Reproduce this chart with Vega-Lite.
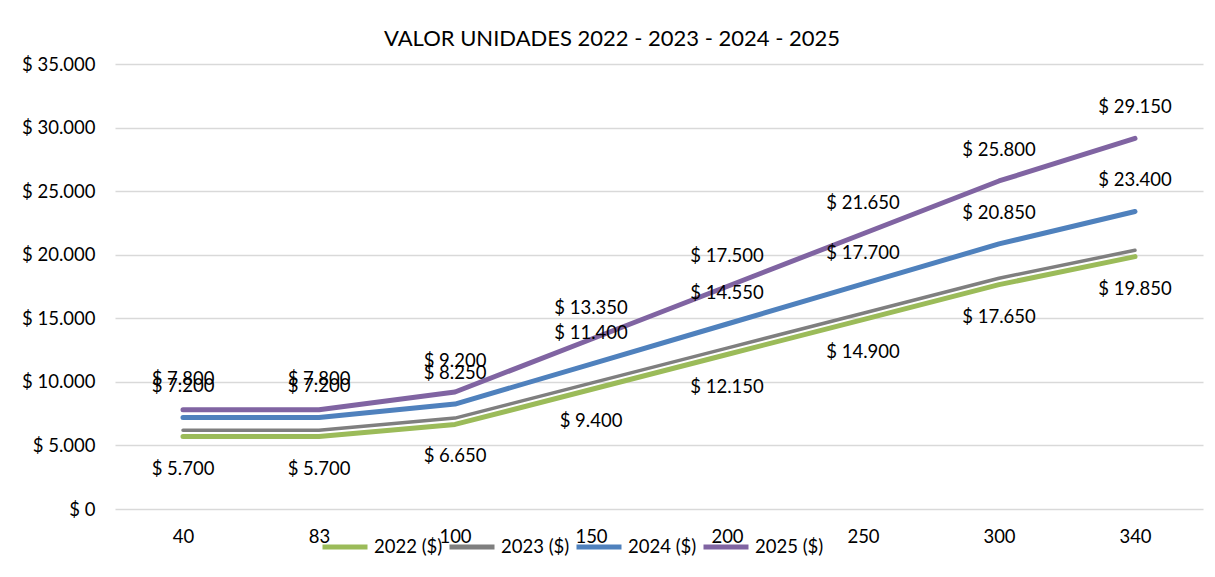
{
  "$schema": "https://vega.github.io/schema/vega-lite/v6.json",
  "autosize": {"type": "none"},
  "width": 1088,
  "height": 445,
  "padding": {"left": 115, "top": 64, "right": 12, "bottom": 68},
  "background": "white",
  "config": {
    "locale": {"number": {"decimal": ",", "thousands": ".", "grouping": [3], "currency": ["$ ", ""]}},
    "font": "Lato",
    "view": {"stroke": null}
  },
  "title": {
    "text": "VALOR UNIDADES 2022 - 2023 - 2024 - 2025",
    "font": "Lato",
    "fontSize": 22,
    "fontWeight": "normal",
    "color": "#000000",
    "anchor": "middle",
    "dx": -47,
    "offset": 4
  },
  "data": {
    "values": [
      {"unidades": "40", "serie": "2022 ($)", "valor": 5700},
      {"unidades": "83", "serie": "2022 ($)", "valor": 5700},
      {"unidades": "100", "serie": "2022 ($)", "valor": 6650},
      {"unidades": "150", "serie": "2022 ($)", "valor": 9400},
      {"unidades": "200", "serie": "2022 ($)", "valor": 12150},
      {"unidades": "250", "serie": "2022 ($)", "valor": 14900},
      {"unidades": "300", "serie": "2022 ($)", "valor": 17650},
      {"unidades": "340", "serie": "2022 ($)", "valor": 19850},
      {"unidades": "40", "serie": "2023 ($)", "valor": 6200},
      {"unidades": "83", "serie": "2023 ($)", "valor": 6200},
      {"unidades": "100", "serie": "2023 ($)", "valor": 7150},
      {"unidades": "150", "serie": "2023 ($)", "valor": 9900},
      {"unidades": "200", "serie": "2023 ($)", "valor": 12650},
      {"unidades": "250", "serie": "2023 ($)", "valor": 15400},
      {"unidades": "300", "serie": "2023 ($)", "valor": 18150},
      {"unidades": "340", "serie": "2023 ($)", "valor": 20350},
      {"unidades": "40", "serie": "2024 ($)", "valor": 7200},
      {"unidades": "83", "serie": "2024 ($)", "valor": 7200},
      {"unidades": "100", "serie": "2024 ($)", "valor": 8250},
      {"unidades": "150", "serie": "2024 ($)", "valor": 11400},
      {"unidades": "200", "serie": "2024 ($)", "valor": 14550},
      {"unidades": "250", "serie": "2024 ($)", "valor": 17700},
      {"unidades": "300", "serie": "2024 ($)", "valor": 20850},
      {"unidades": "340", "serie": "2024 ($)", "valor": 23400},
      {"unidades": "40", "serie": "2025 ($)", "valor": 7800},
      {"unidades": "83", "serie": "2025 ($)", "valor": 7800},
      {"unidades": "100", "serie": "2025 ($)", "valor": 9200},
      {"unidades": "150", "serie": "2025 ($)", "valor": 13350},
      {"unidades": "200", "serie": "2025 ($)", "valor": 17500},
      {"unidades": "250", "serie": "2025 ($)", "valor": 21650},
      {"unidades": "300", "serie": "2025 ($)", "valor": 25800},
      {"unidades": "340", "serie": "2025 ($)", "valor": 29150}
    ]
  },
  "encoding": {
    "x": {
      "field": "unidades",
      "type": "ordinal",
      "sort": ["40", "83", "100", "150", "200", "250", "300", "340"],
      "scale": {"padding": 0.5},
      "axis": {
        "title": null,
        "labelAngle": 0,
        "labelFont": "Lato",
        "labelFontSize": 18.5,
        "labelColor": "#000000",
        "labelPadding": 18,
        "ticks": false,
        "domain": false,
        "grid": false
      }
    },
    "y": {
      "field": "valor",
      "type": "quantitative",
      "scale": {"domain": [0, 35000]},
      "axis": {
        "title": null,
        "values": [0, 5000, 10000, 15000, 20000, 25000, 30000, 35000],
        "format": "$,.0f",
        "labelFont": "Lato",
        "labelFontSize": 18.5,
        "labelColor": "#000000",
        "labelPadding": 20,
        "ticks": false,
        "domain": false,
        "gridColor": "#D9D9D9",
        "gridWidth": 1.5
      }
    }
  },
  "layer": [
    {
      "mark": {"type": "line", "strokeCap": "round", "strokeJoin": "round"},
      "encoding": {
        "color": {
          "field": "serie",
          "type": "nominal",
          "scale": {
            "domain": ["2022 ($)", "2023 ($)", "2024 ($)", "2025 ($)"],
            "range": ["#9BBB59", "#7F7F7F", "#4F81BD", "#8064A2"]
          },
          "legend": {
            "title": null,
            "orient": "none",
            "direction": "horizontal",
            "legendX": 205,
            "legendY": 458,
            "symbolType": "stroke",
            "symbolSize": 2025,
            "symbolStrokeWidth": 5,
            "labelFont": "Lato",
            "labelFontSize": 18.5,
            "labelColor": "#000000",
            "labelOffset": 4,
            "columnPadding": -4
          }
        },
        "strokeWidth": {
          "condition": {"test": "datum.serie == '2023 ($)'", "value": 3.5},
          "value": 5
        }
      }
    },
    {
      "transform": [{"filter": "datum.serie == '2024 ($)' || datum.serie == '2025 ($)'"}],
      "mark": {"type": "text", "dy": -31, "font": "Lato", "fontSize": 18.5, "color": "#000000"},
      "encoding": {
        "text": {"field": "valor", "type": "quantitative", "format": "$,.0f"}
      }
    },
    {
      "transform": [{"filter": "datum.serie == '2022 ($)'"}],
      "mark": {"type": "text", "dy": 32, "font": "Lato", "fontSize": 18.5, "color": "#000000"},
      "encoding": {
        "text": {"field": "valor", "type": "quantitative", "format": "$,.0f"}
      }
    }
  ]
}
